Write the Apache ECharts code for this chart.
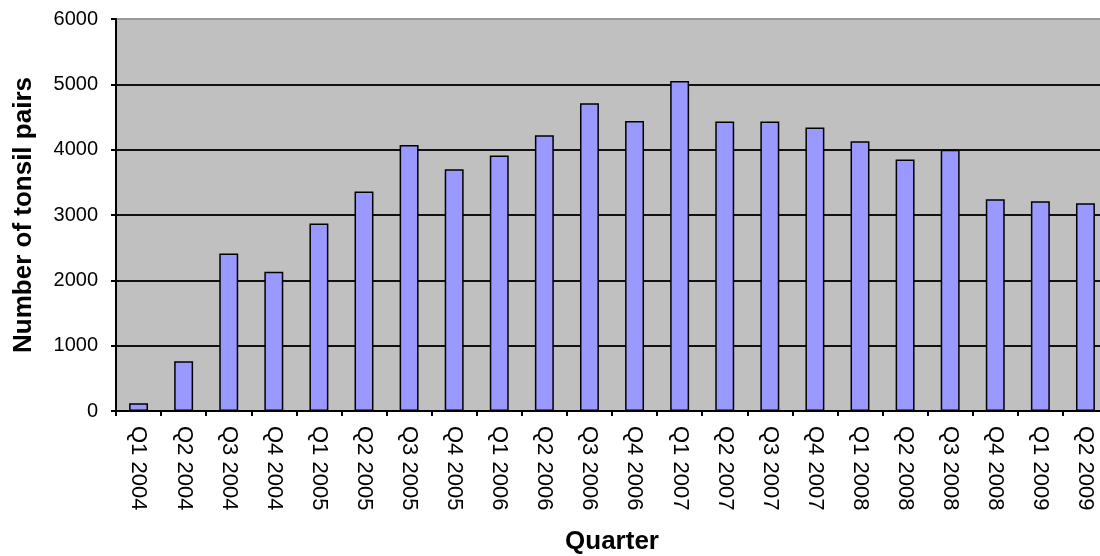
<!DOCTYPE html>
<html>
<head>
<meta charset="utf-8">
<script src="https://cdn.jsdelivr.net/npm/echarts@6/dist/echarts.min.js"></script>
<style>
  html, body { margin: 0; padding: 0; background: #fff; }
  #chart { width: 1100px; height: 556px; }
</style>
</head>
<body>
<div id="chart"></div>
<script>
// Tonsil pairs collected per quarter, Q1 2004 – Q2 2009
const quarters = [
  'Q1 2004', 'Q2 2004', 'Q3 2004', 'Q4 2004',
  'Q1 2005', 'Q2 2005', 'Q3 2005', 'Q4 2005',
  'Q1 2006', 'Q2 2006', 'Q3 2006', 'Q4 2006',
  'Q1 2007', 'Q2 2007', 'Q3 2007', 'Q4 2007',
  'Q1 2008', 'Q2 2008', 'Q3 2008', 'Q4 2008',
  'Q1 2009', 'Q2 2009'
];
const tonsilPairs = [
  120, 760, 2410, 2130,
  2870, 3360, 4070, 3700,
  3910, 4220, 4710, 4440,
  5050, 4430, 4430, 4340,
  4130, 3850, 4000, 3240,
  3210, 3180
];
const yMin = 0;
const yMax = 6000;
const yStep = 1000;

const chart = echarts.init(document.getElementById('chart'), null, { renderer: 'canvas' });

// one colour per split line; the last one (top edge) is the light frame colour
const tickCount = (yMax - yMin) / yStep + 1;
const splitColors = [];
for (let i = 0; i < tickCount; i++) splitColors.push(i === tickCount - 1 ? '#9a9a9a' : '#111');

chart.setOption({
  animation: false,
  backgroundColor: '#ffffff',
  grid: {
    left: 116, top: 19, right: -8, bottom: 145,
    show: true,
    backgroundColor: '#c0c0c0',
    borderColor: '#9a9a9a',
    borderWidth: 1,
    containLabel: false,
    outerBoundsMode: 'none'
  },
  xAxis: {
    type: 'category',
    data: quarters,
    boundaryGap: true,
    name: 'Quarter',
    nameLocation: 'middle',
    nameGap: 118,
    nameTextStyle: {
      fontFamily: 'Liberation Sans, Arial, sans-serif',
      fontWeight: 'bold',
      fontSize: 26,
      color: '#000'
    },
    axisLine: { show: true, lineStyle: { color: '#000', width: 2 } },
    axisTick: { show: true, alignWithLabel: false, length: 5, lineStyle: { color: '#000', width: 2 } },
    axisLabel: {
      rotate: -90,
      margin: 15,
      interval: 0,
      fontFamily: 'Liberation Sans Narrow, Arial Narrow, Liberation Sans, sans-serif',
      fontSize: 22,
      color: '#000'
    },
    splitLine: { show: false }
  },
  yAxis: {
    type: 'value',
    min: yMin,
    max: yMax,
    interval: yStep,
    name: 'Number of tonsil pairs',
    nameLocation: 'middle',
    nameGap: 79,
    nameTextStyle: {
      fontFamily: 'Liberation Sans, Arial, sans-serif',
      fontWeight: 'bold',
      fontSize: 26,
      color: '#000'
    },
    axisLine: { show: true, lineStyle: { color: '#000', width: 2 } },
    axisTick: { show: true, length: 5, lineStyle: { color: '#000', width: 2 } },
    axisLabel: {
      margin: 18,
      fontFamily: 'Liberation Sans, Arial, sans-serif',
      fontSize: 20,
      color: '#000',
      formatter: function (v) { return String(v); }
    },
    splitLine: { show: true, lineStyle: { color: splitColors, width: 2 } }
  },
  series: [{
    type: 'bar',
    data: tonsilPairs,
    barWidth: '42%',
    itemStyle: {
      color: '#9999ff',
      borderColor: '#000',
      borderWidth: 1.5
    }
  }]
});
</script>
</body>
</html>
